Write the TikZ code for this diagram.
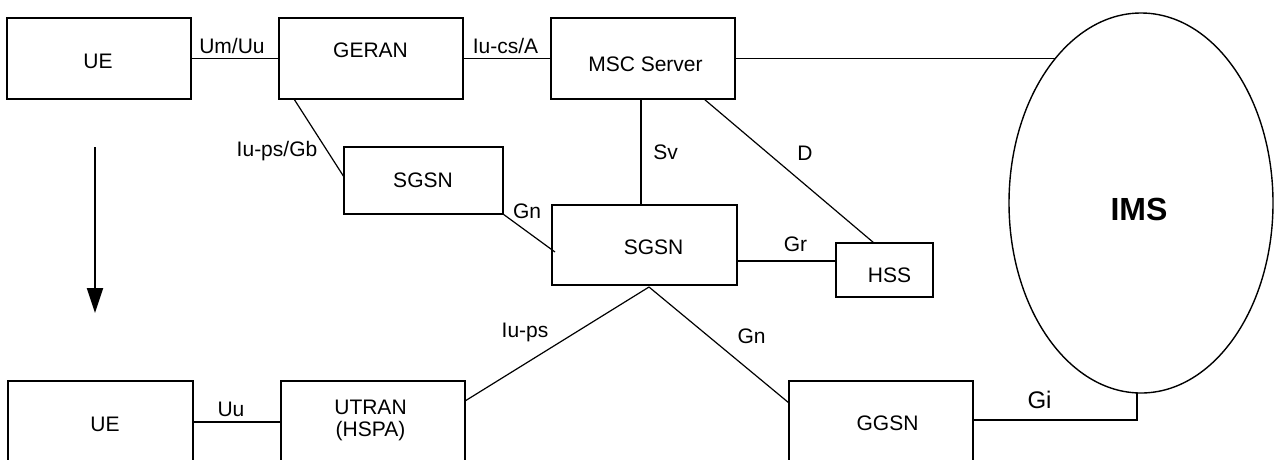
\documentclass[tikz,border=0pt]{standalone}
\usepackage{fontspec}
\setmainfont{Liberation Sans}
\usetikzlibrary{arrows.meta,shapes.geometric}
\begin{document}
\begin{tikzpicture}[x=1pt,y=-1pt,
  box/.style={draw,line width=1.6pt,inner sep=0pt,outer sep=0pt},
  conn/.style={line width=1.2pt},
  txt/.style={inner sep=0pt,anchor=base,font=\fontsize{21}{22}\selectfont},
  bigtxt/.style={inner sep=0pt,anchor=base,font=\fontsize{24}{26}\selectfont},
  imstxt/.style={inner sep=0pt,anchor=base,font=\fontsize{32}{34}\selectfont\bfseries}]
\fill[white] (0,0) rectangle (1276,459);
\useasboundingbox (0,0) rectangle (1276,459);
\clip (0,0) rectangle (1276,459);

% boxes
\node[box,minimum width=184pt,minimum height=81pt] (ue1) at (99,58.5) {};
\node[box,minimum width=184pt,minimum height=81pt] (geran) at (371,58.5) {};
\node[box,minimum width=184pt,minimum height=81pt] (msc) at (643,58.5) {};
\node[box,minimum width=159pt,minimum height=67pt] (sgsn1) at (423.5,180.5) {};
\node[box,minimum width=185pt,minimum height=80pt] (sgsn2) at (644.5,245) {};
\node[box,minimum width=97pt,minimum height=54pt] (hss) at (884.5,270) {};
\node[box,minimum width=185pt,minimum height=82pt] (ue2) at (100.5,422) {};
\node[box,minimum width=184pt,minimum height=82pt] (utran) at (373,422) {};
\node[box,minimum width=184pt,minimum height=82pt] (ggsn) at (881,422) {};
\node[draw,ellipse,line width=1.4pt,inner sep=0pt,outer sep=0pt,
      minimum width=264pt,minimum height=380pt] (ims) at (1141,203) {};

% box texts
\node[txt] (tue1) at (98,68) {UE};
\node[txt] (tgeran) at (370.5,57) {GERAN};
\node[txt] (tmsc) at (645.5,71) {MSC Server};
\node[txt] (tsgsn1) at (423,187) {SGSN};
\node[txt] (tsgsn2) at (653.5,254) {SGSN};
\node[txt] (thss) at (889.5,282) {HSS};
\node[txt] (tue2) at (105,431) {UE};
\node[txt] (tutran) at (370.5,414) {UTRAN};
\node[txt] (thspa) at (370.5,436) {(HSPA)};
\node[txt] (tggsn) at (887.5,430) {GGSN};
\node[imstxt] (tims) at (1139,220) {IMS};

% connectors
\draw[conn] (ue1) -- (geran);
\draw[conn] (geran) -- (msc);
\draw[conn] (msc.east) -- (msc.east -| ims.121);
\draw[conn] ([xshift=15pt]geran.south west) -- ([yshift=3.5pt]sgsn1.west);
\draw[conn] (sgsn1.south east) -- ([yshift=-7pt,xshift=3pt]sgsn2.west);
\draw[conn] ([xshift=-2pt]msc.south) -- ([xshift=-2pt]msc.south |- sgsn2.north);
\draw[conn] ([xshift=61pt]msc.south) -- ([xshift=-10.5pt]hss.north);
\draw[conn] ([yshift=-16pt]sgsn2.east) -- ([yshift=-16pt]sgsn2.east -| hss.west);
\coordinate (apex) at ([xshift=4.5pt,yshift=-2pt]sgsn2.south);
\draw[conn] (apex) -- ([yshift=21pt]utran.east);
\draw[conn] (apex) -- ([yshift=19pt]ggsn.west);
\draw[conn] (ue2) -- (utran);
\draw[conn] ([yshift=2pt]ggsn.east) -| ([xshift=-4pt]ims.south);

% connector labels
\node[txt] (lumuu) at (232,53) {Um/Uu};
\node[txt] (lcs) at (505.5,53) {Iu-cs/A};
\node[txt] (lpsgb) at (277,156) {Iu-ps/Gb};
\node[txt] (lgn1) at (527,218) {Gn};
\node[txt] (lsv) at (665.5,159) {Sv};
\node[txt] (ld) at (805,160) {D};
\node[txt] (lgr) at (795.5,251) {Gr};
\node[txt] (lips) at (525,337) {Iu-ps};
\node[txt] (lgn2) at (751.5,343) {Gn};
\node[txt] (luu) at (231,416) {Uu};
\node[bigtxt] (lgi) at (1039.5,408) {Gi};

% migration arrow
\coordinate (arrS) at (95,147);
\coordinate (arrE) at (95,313);
\draw[line width=2pt,-{Triangle[length=25pt,width=16pt]}] (arrS) -- (arrE);
\end{tikzpicture}
\end{document}
